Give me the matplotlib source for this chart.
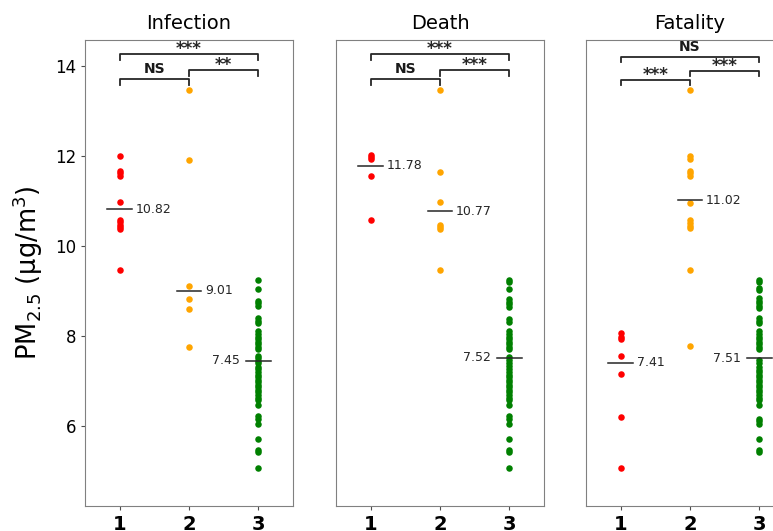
import matplotlib.pyplot as plt

# panel titles and group colours
titles = ["Infection", "Death", "Fatality"]
group_colors = ["red", "orange", "green"]

# PM2.5 values per panel, group 1..3
inf_g1 = [12.01, 11.67, 11.62, 11.56, 10.97, 10.58, 10.53, 10.47, 10.42, 10.37, 9.47]
inf_g2 = [13.47, 11.91, 9.10, 8.82, 8.61, 7.76]
inf_g3 = [9.24, 9.04, 8.78, 8.73, 8.67, 8.41, 8.33, 8.28, 8.10, 8.04, 7.98, 7.93,
          7.87, 7.82, 7.76, 7.71, 7.56, 7.50, 7.45, 7.39, 7.32, 7.26, 7.19, 7.13,
          7.08, 7.02, 6.97, 6.91, 6.86, 6.80, 6.75, 6.69, 6.63, 6.58, 6.47, 6.21,
          6.15, 6.04, 5.70, 5.47, 5.41, 5.06]

death_g1 = [12.02, 11.97, 11.93, 11.56, 10.58]
death_g2 = [13.47, 11.65, 10.97, 10.47, 10.42, 10.37, 9.47]
death_g3 = [9.24, 9.19, 9.04, 8.82, 8.76, 8.70, 8.64, 8.37, 8.30, 8.10, 8.04, 7.98,
            7.93, 7.87, 7.82, 7.76, 7.71, 7.53, 7.47, 7.39, 7.33, 7.26, 7.19, 7.13,
            7.08, 7.02, 6.97, 6.91, 6.86, 6.80, 6.75, 6.69, 6.63, 6.58, 6.47, 6.21,
            6.15, 6.04, 5.70, 5.47, 5.41, 5.06]

fat_g1 = [8.06, 7.98, 7.93, 7.56, 7.15, 6.19, 5.06]
fat_g2 = [13.47, 12.00, 11.93, 11.67, 11.62, 11.56, 10.96, 10.58, 10.52, 10.45,
          10.39, 9.47, 7.78]
fat_g3 = [9.24, 9.19, 9.06, 9.02, 8.84, 8.78, 8.73, 8.67, 8.62, 8.39, 8.34, 8.28,
          8.10, 8.04, 7.98, 7.93, 7.87, 7.82, 7.76, 7.71, 7.47, 7.39, 7.32, 7.24,
          7.19, 7.13, 7.08, 7.02, 6.97, 6.91, 6.86, 6.80, 6.75, 6.69, 6.63, 6.58,
          6.47, 6.16, 6.10, 6.04, 5.70, 5.47, 5.41]

panel_data = [[inf_g1, inf_g2, inf_g3],
              [death_g1, death_g2, death_g3],
              [fat_g1, fat_g2, fat_g3]]

# mean lines shown in the figure
inf_means = [10.82, 9.01, 7.45]
death_means = [11.78, 10.77, 7.52]
fat_means = [7.41, 11.02, 7.51]
panel_means = [inf_means, death_means, fat_means]
label_side = ["right", "right", "left"]

# significance brackets: (group a, group b, height, label)
inf_sig = [(1, 3, 14.26, "***"), (1, 2, 13.71, "NS"), (2, 3, 13.91, "**")]
death_sig = [(1, 3, 14.26, "***"), (1, 2, 13.71, "NS"), (2, 3, 13.91, "***")]
fat_sig = [(1, 3, 14.21, "NS"), (1, 2, 13.69, "***"), (2, 3, 13.90, "***")]
panel_sig = [inf_sig, death_sig, fat_sig]

W, H = 773, 531
fig = plt.figure(figsize=(W / 100, H / 100), dpi=100)
lefts = [85, 336, 586]
ax_w, ax_bottom, ax_top = 208, 506, 40

for p in range(3):
    ax = fig.add_axes([lefts[p] / W, (H - ax_bottom) / H, ax_w / W, (ax_bottom - ax_top) / H])
    for g in range(3):
        x = g + 1
        vals = panel_data[p][g]
        ax.scatter([x] * len(vals), vals, s=22, color=group_colors[g], zorder=2, linewidths=0)
        m = panel_means[p][g]
        ax.plot([x - 0.18, x + 0.18], [m, m], color="0.15", lw=1.1, zorder=3)
        if label_side[g] == "right":
            ax.text(x + 0.23, m, f"{m:.2f}", ha="left", va="center", fontsize=9, color="0.15")
        else:
            ax.text(x - 0.27, m, f"{m:.2f}", ha="right", va="center", fontsize=9, color="0.15")

    for a, b, h, lab in panel_sig[p]:
        ax.plot([a, a, b, b], [h - 0.12, h, h, h - 0.12], color="0.15", lw=1.3)
        if lab == "NS":
            ax.text((a + b) / 2, h + 0.22, lab, ha="center", va="center",
                    fontsize=10, fontweight="bold", color="0.1")
        else:
            # asterisks sit high in their box, so shift the centre down
            ax.text((a + b) / 2, h + 0.11, lab, ha="center", va="center",
                    fontsize=12, fontweight="bold", color="0.15")

    ax.set_xlim(0.5, 3.5)
    ax.set_ylim(4.22, 14.58)
    ax.set_xticks([1, 2, 3])
    ax.set_xticklabels(["1", "2", "3"], fontsize=14, fontweight="bold")
    ax.set_yticks([6, 8, 10, 12, 14])
    ax.set_title(titles[p], fontsize=14, pad=8)
    for sp in ax.spines.values():
        sp.set_color("0.5")
    ax.tick_params(colors="0.3", labelcolor="black", length=3)
    if p == 0:
        ax.tick_params(axis="y", labelsize=12)
        ax.set_ylabel("PM$_{2.5}$ (μg/m$^3$)", fontsize=18.5, labelpad=7)
    else:
        ax.tick_params(axis="y", left=False, labelleft=False)

fig.savefig("out.png", dpi=100)
